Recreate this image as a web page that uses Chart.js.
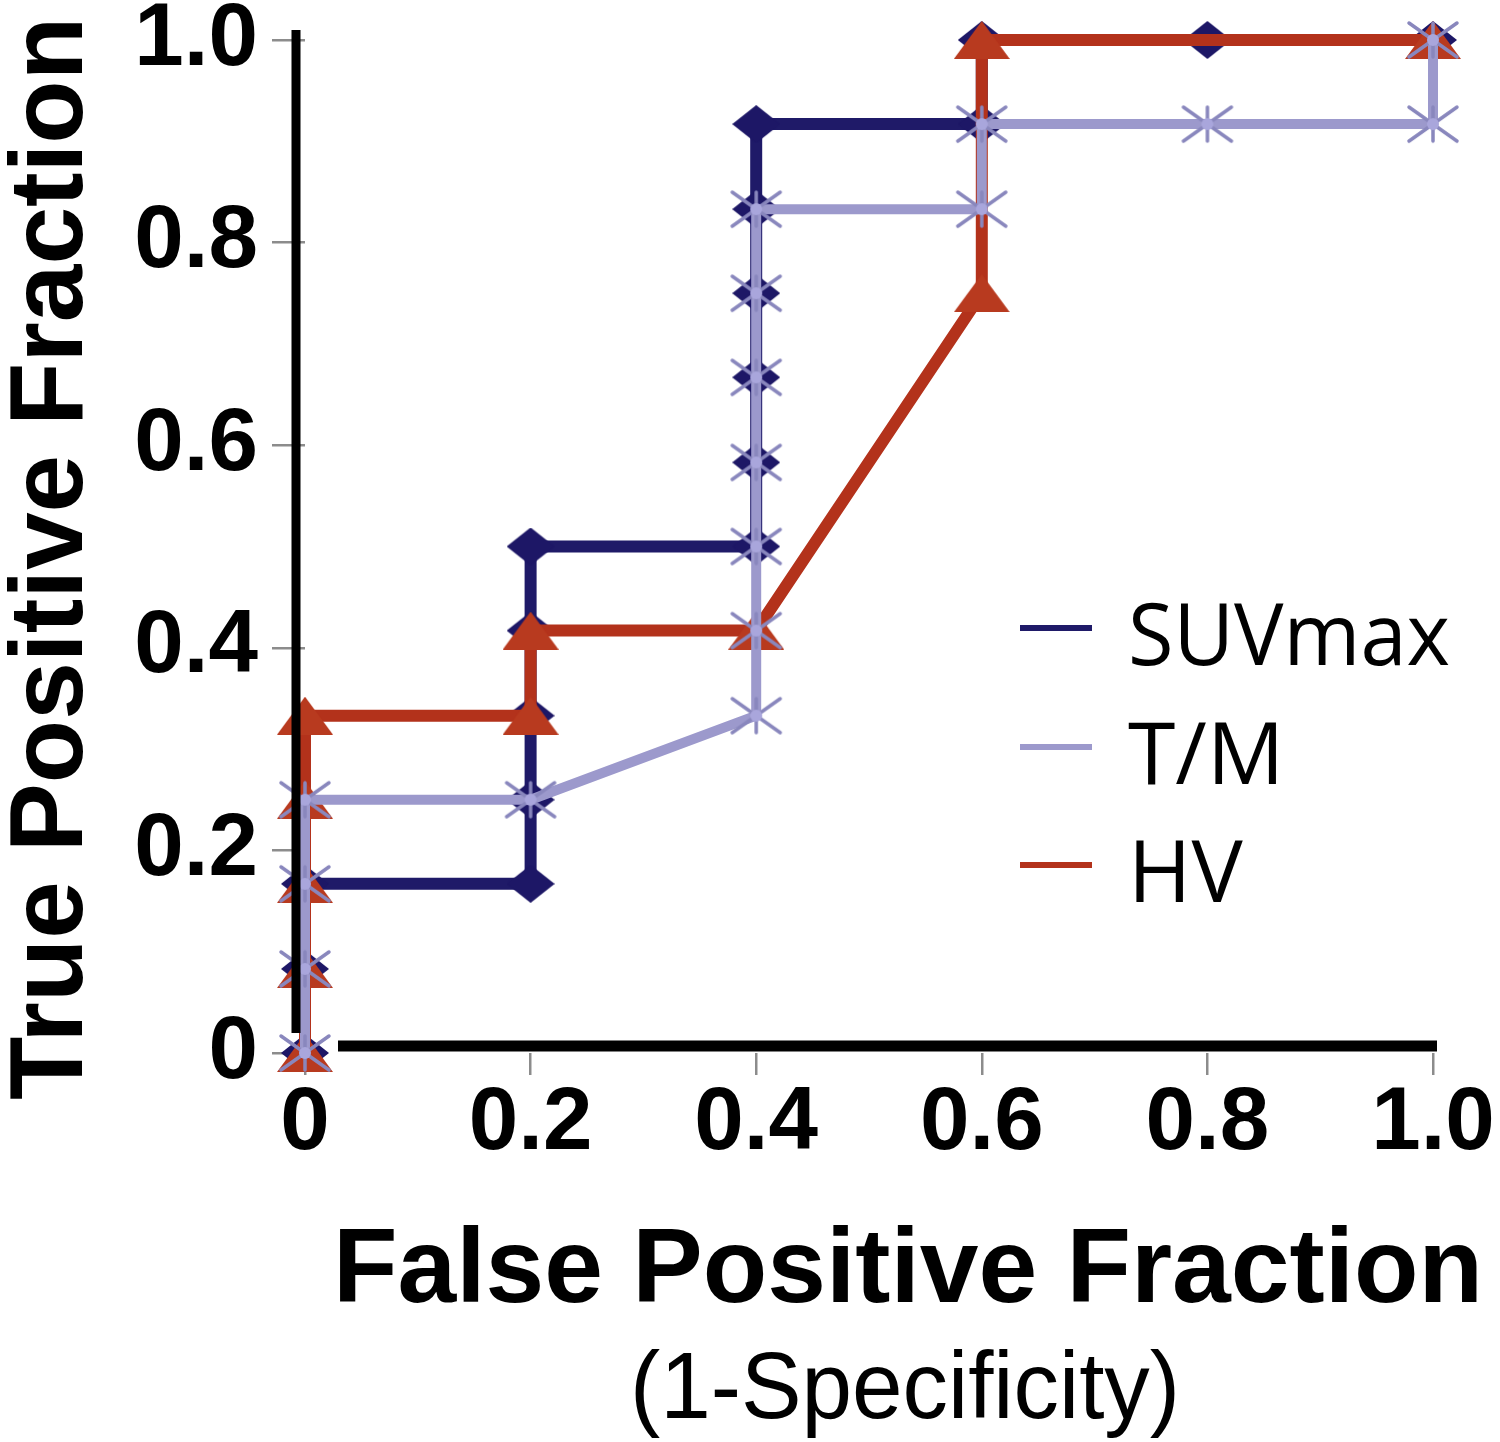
<!DOCTYPE html>
<html>
<head>
<meta charset="utf-8">
<script src="https://cdn.jsdelivr.net/npm/chart.js@4.4.1/dist/chart.umd.min.js"></script>
<style>
  html, body { margin: 0; padding: 0; background: #ffffff; }
  #wrap { width: 1500px; height: 1442px; }
</style>
</head>
<body>
<div id="wrap"><canvas id="c" width="1500" height="1442"></canvas></div>
<script>
// ---- Data ----
const seriesNames = ['SUVmax', 'T/M', 'HV'];

const suvX = [0, 0, 0, 0.2, 0.2, 0.2, 0.2, 0.2, 0.4, 0.4, 0.4, 0.4, 0.4, 0.4, 0.6, 0.6, 0.8, 1.0];
const suvY = [0, 0.083, 0.167, 0.167, 0.25, 0.333, 0.417, 0.5, 0.5, 0.583, 0.667, 0.75, 0.833, 0.917, 0.917, 1.0, 1.0, 1.0];

const tmX = [0, 0, 0, 0, 0.2, 0.4, 0.4, 0.4, 0.4, 0.4, 0.4, 0.4, 0.6, 0.6, 0.8, 1.0, 1.0];
const tmY = [0, 0.083, 0.167, 0.25, 0.25, 0.333, 0.417, 0.5, 0.583, 0.667, 0.75, 0.833, 0.833, 0.917, 0.917, 0.917, 1.0];

const hvX = [0, 0, 0, 0, 0, 0.2, 0.2, 0.4, 0.6, 0.6, 1.0];
const hvY = [0, 0.083, 0.167, 0.25, 0.333, 0.333, 0.417, 0.417, 0.75, 1.0, 1.0];

const xTickLabels = ['0', '0.2', '0.4', '0.6', '0.8', '1.0'];
const yTickLabels = ['0', '0.2', '0.4', '0.6', '0.8', '1.0'];

const xTitle = 'False Positive Fraction';
const xSubTitle = '(1-Specificity)';
const yTitle = 'True Positive Fraction';

// ---- Styles ----
const colSUV = '#1f1a68';
const colTM = '#9c99cc';
const colHV = '#b3321b';

function toPoints(xs, ys) { return xs.map((x, i) => ({ x: x, y: ys[i] })); }

function makeDiamond(w, h, color) {
  const c = document.createElement('canvas'); c.width = w; c.height = h;
  const g = c.getContext('2d');
  g.fillStyle = color;
  g.beginPath(); g.moveTo(w / 2, 0); g.lineTo(w, h / 2); g.lineTo(w / 2, h); g.lineTo(0, h / 2); g.closePath(); g.fill();
  return c;
}
function makeTriangle(w, h, color) {
  const c = document.createElement('canvas'); c.width = w; c.height = h;
  const g = c.getContext('2d');
  g.fillStyle = color;
  g.beginPath(); g.moveTo(w / 2, 0); g.lineTo(w, h); g.lineTo(0, h); g.closePath(); g.fill();
  return c;
}
function makeStar(w, h, color) {
  const c = document.createElement('canvas'); c.width = w; c.height = h;
  const g = c.getContext('2d');
  g.strokeStyle = color; g.lineWidth = 3.5; g.lineCap = 'round';
  const p = 3;
  g.beginPath();
  g.moveTo(p, p); g.lineTo(w - p, h - p);
  g.moveTo(w - p, p); g.lineTo(p, h - p);
  g.moveTo(w / 2, p); g.lineTo(w / 2, h - p);
  g.stroke();
  g.fillStyle = '#a9a6dc';
  g.beginPath(); g.arc(w / 2, h / 2, 6, 0, Math.PI * 2); g.fill();
  return c;
}

const diamondImg = makeDiamond(48, 38, '#1d1766');
const triangleImg = makeTriangle(56, 38, '#b83a1f');
const starImg = makeStar(54, 40, '#8987bd');

// ---- Plugins: offset axis lines, axis titles, legend ----
const decorPlugin = {
  id: 'decor',
  afterDatasetsDraw(chart) {
    const ctx = chart.ctx;
    const xs = chart.scales.x, ys = chart.scales.y;
    const x0 = xs.getPixelForValue(0), x1 = xs.getPixelForValue(1);
    const y0 = ys.getPixelForValue(0), y1 = ys.getPixelForValue(1);
    ctx.save();
    ctx.strokeStyle = '#000';
    ctx.lineCap = 'butt';
    // y axis line
    ctx.lineWidth = 9;
    ctx.beginPath(); ctx.moveTo(x0 - 9, y1 - 10); ctx.lineTo(x0 - 9, y0 - 20); ctx.stroke();
    // x axis line
    ctx.lineWidth = 11;
    ctx.beginPath(); ctx.moveTo(x0 + 33, y0 - 7); ctx.lineTo(x1 + 4, y0 - 7); ctx.stroke();
    ctx.restore();
  },
  afterDraw(chart) {
    const ctx = chart.ctx;
    const a = chart.chartArea;
    ctx.save();
    ctx.fillStyle = '#000';
    ctx.textAlign = 'center';
    ctx.textBaseline = 'alphabetic';
    // x title
    const cx = (a.left + a.right) / 2 + 39;
    ctx.font = 'bold 106px "Liberation Sans", Arial, sans-serif';
    ctx.fillText(xTitle, cx, a.bottom + 249, 1150);
    ctx.font = '95px "Liberation Sans", Arial, sans-serif';
    ctx.fillText(xSubTitle, cx - 3, a.bottom + 365, 550);
    // y title (rotated)
    ctx.save();
    ctx.translate(82, (a.top + a.bottom) / 2 + 12);
    ctx.rotate(-Math.PI / 2);
    ctx.font = 'bold 104px "Liberation Sans", Arial, sans-serif';
    ctx.fillText(yTitle, 0, 0, 1083);
    ctx.restore();

    // legend
    const cols = [colSUV, colTM, colHV];
    const lx0 = a.left + 715, lx1 = a.left + 787, tx = a.left + 823;
    const baseY = [a.top + 625, a.top + 744, a.top + 862];
    ctx.textAlign = 'left';
    ctx.font = '86px "Open Sans", sans-serif';
    seriesNames.forEach((name, i) => {
      ctx.strokeStyle = cols[i];
      ctx.lineWidth = 6;
      ctx.beginPath(); ctx.moveTo(lx0, baseY[i] - 37); ctx.lineTo(lx1, baseY[i] - 37); ctx.stroke();
      ctx.fillStyle = '#000';
      ctx.fillText(name, tx, baseY[i], i === 0 ? 322 : undefined);
    });
    ctx.restore();
  }
};

const tickFont = { family: '"Liberation Sans", Arial, sans-serif', weight: 'bold', size: 89 };

new Chart(document.getElementById('c'), {
  type: 'line',
  data: {
    datasets: [
      {
        label: seriesNames[0],
        data: toPoints(suvX, suvY),
        borderColor: colSUV,
        borderWidth: 12,
        pointStyle: diamondImg,
        order: 3
      },
      {
        label: seriesNames[1],
        data: toPoints(tmX, tmY),
        borderColor: colTM,
        borderWidth: 10,
        pointStyle: starImg,
        order: 1
      },
      {
        label: seriesNames[2],
        data: toPoints(hvX, hvY),
        borderColor: colHV,
        borderWidth: 12,
        pointStyle: triangleImg,
        order: 2
      }
    ]
  },
  options: {
    responsive: false,
    devicePixelRatio: 1,
    animation: false,
    clip: false,
    parsing: true,
    elements: {
      line: { tension: 0, fill: false, borderJoinStyle: 'round', borderCapStyle: 'butt' },
      point: { radius: 20, hoverRadius: 20 }
    },
    layout: { padding: { top: 40, right: 67, left: 0, bottom: 0 } },
    plugins: {
      legend: { display: false },
      tooltip: { enabled: false },
      title: { display: false }
    },
    scales: {
      x: {
        type: 'linear',
        min: 0, max: 1,
        afterFit(s) { s.height = 389; s.paddingLeft = 0; s.paddingRight = 0; },
        border: { display: false },
        grid: { display: true, drawOnChartArea: false, drawTicks: true, tickLength: 22, color: '#8c8c8c', lineWidth: 2.5 },
        ticks: {
          stepSize: 0.2,
          padding: -4,
          color: '#000',
          font: tickFont,
          maxRotation: 0,
          autoSkip: false,
          callback: (v, i) => xTickLabels[i]
        }
      },
      y: {
        type: 'linear',
        min: 0, max: 1,
        afterFit(s) { s.width = 305; s.paddingTop = 0; s.paddingBottom = 0; },
        border: { display: false },
        grid: { display: true, drawOnChartArea: false, drawTicks: true, tickLength: 33, color: '#8c8c8c', lineWidth: 2.5 },
        ticks: {
          stepSize: 0.2,
          padding: 14,
          color: '#000',
          font: tickFont,
          autoSkip: false,
          callback: (v, i) => yTickLabels[i]
        }
      }
    }
  },
  plugins: [decorPlugin]
});
</script>
</body>
</html>
